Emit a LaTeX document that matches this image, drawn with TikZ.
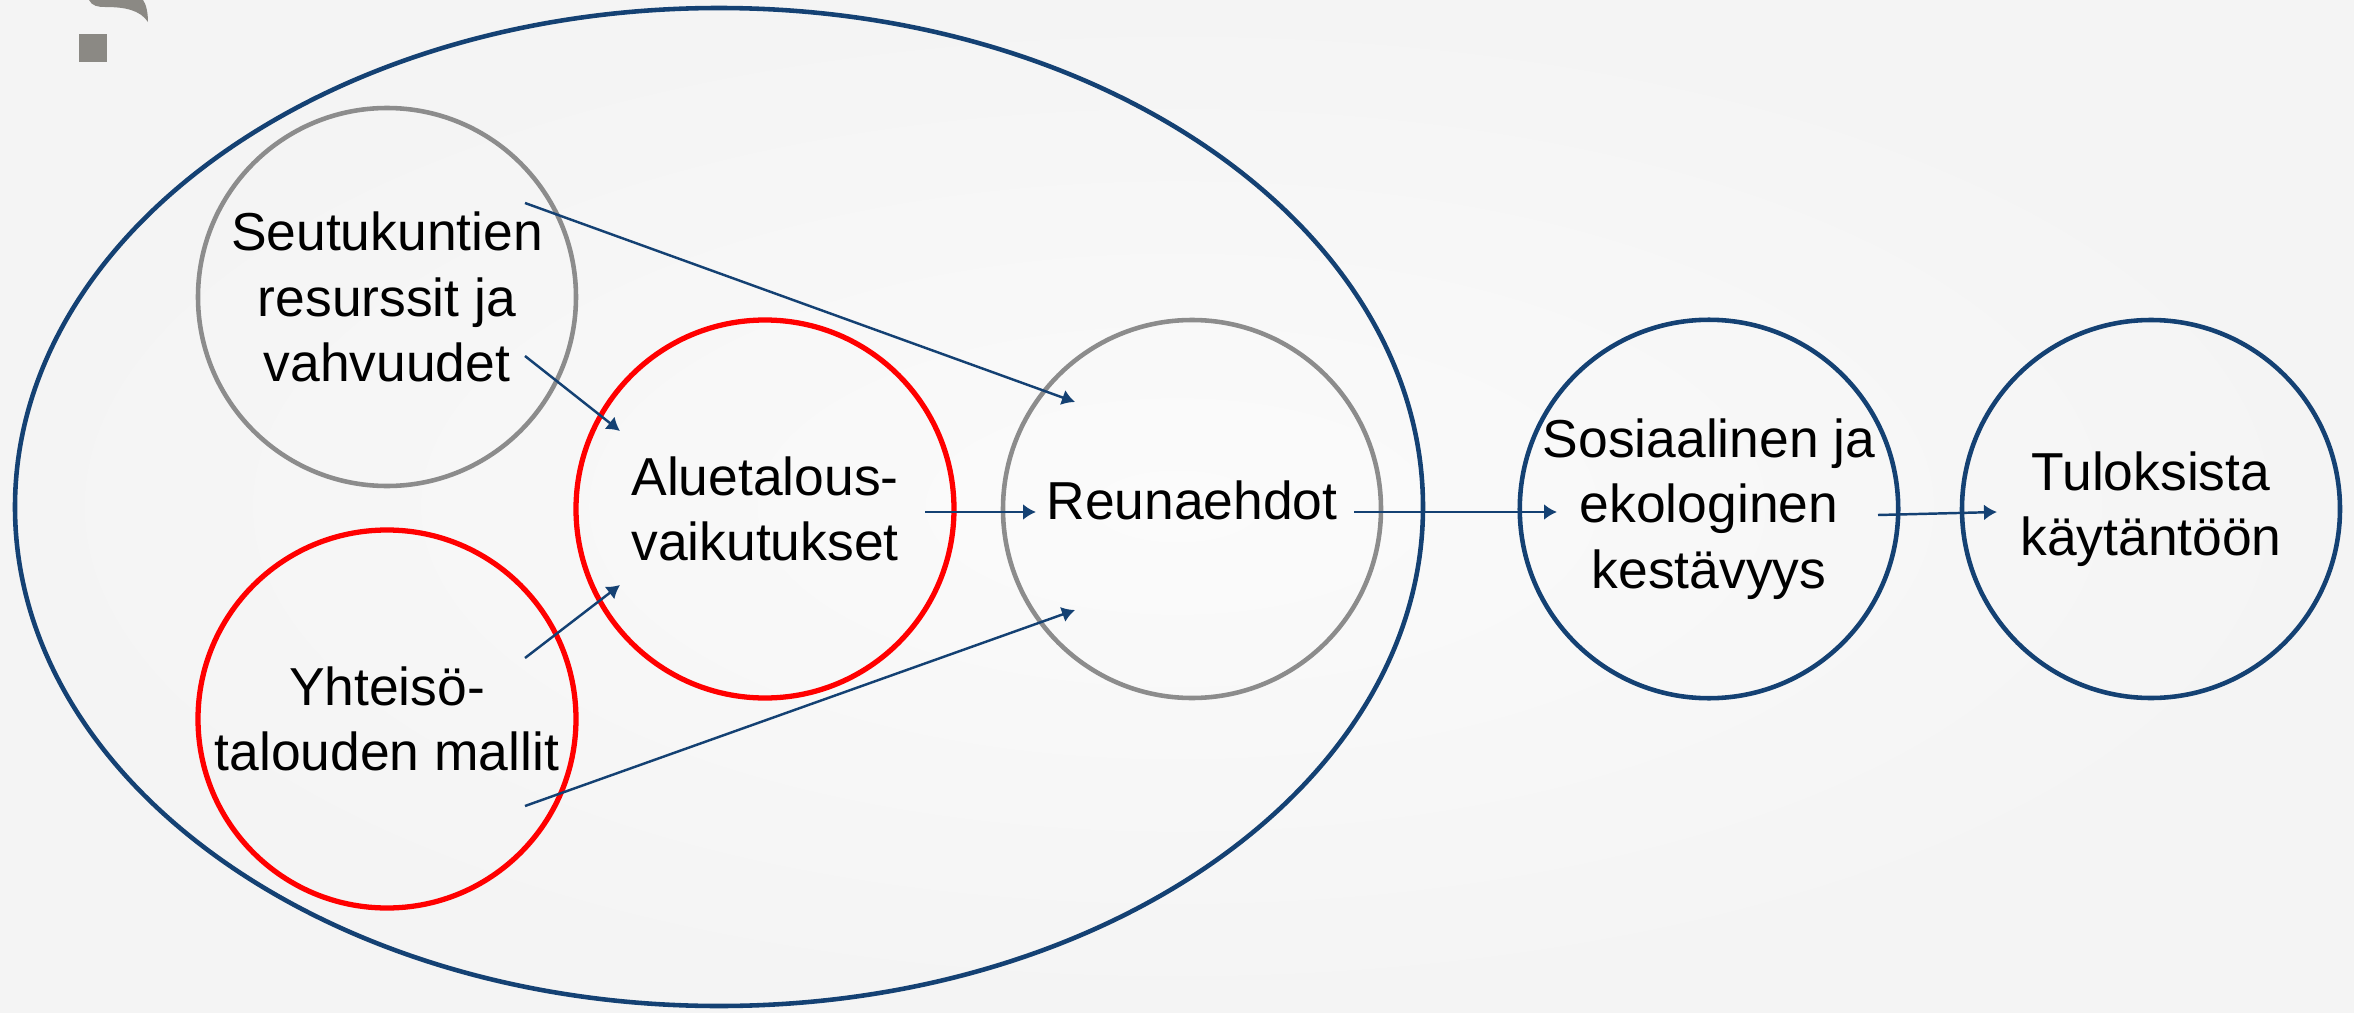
\documentclass[tikz,border=0pt]{standalone}
\usepackage{fontspec}
\setmainfont{Liberation Sans}
\usepackage{tikz}
\usetikzlibrary{arrows.meta,calc}
\definecolor{navy}{RGB}{20,65,115}
\definecolor{ringgrey}{RGB}{140,140,140}
\definecolor{logogrey}{RGB}{139,137,132}
\definecolor{bgouter}{RGB}{244,244,244}
\definecolor{bginner}{RGB}{251,251,251}

\begin{document}
\begin{tikzpicture}
\tikzset{
	ring node/.style = {circle, minimum size = 3.78cm, inner sep = 0, outer sep = 0, align = center, font = \fontsize{15.2}{18.6}\selectfont},
	grey node/.style = {ring node, draw = ringgrey, line width = 1.3pt},
	red node/.style = {ring node, draw = red, line width = 1.5pt},
	blue node/.style = {ring node, draw = navy, line width = 1.3pt},
	link/.style = {draw = navy, line width = 0.7pt, -{Latex[length = 0.13cm, width = 0.16cm]}},
}
\useasboundingbox (0,0) rectangle (23.54,10.12);
\shade[inner color = bginner, outer color = bgouter] (0,0) rectangle (23.54,10.12);

% logo fragment
\fill[logogrey] (0.79,9.50) rectangle (1.07,9.78);
\fill[logogrey] (0.89,10.12) .. controls (0.92,10.06) and (0.98,10.05) .. (1.05,10.05) .. controls (1.25,10.05) and (1.40,10.02) .. (1.48,9.90) .. controls (1.48,10.00) and (1.46,10.08) .. (1.43,10.12) -- cycle;

\draw[navy, line width = 1.3pt] (7.19,5.05) ellipse [x radius = 7.04, y radius = 4.99];

\node(s)[grey node] at (3.87,7.15) {Seutukuntien\\resurssit ja\\vahvuudet};
\node(y)[red node] at (3.87,2.93) {Yhteisö-\\talouden mallit};
\node(a)[red node] at (7.65,5.03) {Aluetalous-\\vaikutukset};
\node(r)[grey node] at (11.92,5.03) {\raisebox{0.6ex}{Reunaehdot}};
\node(k)[blue node] at (17.09,5.03) {Sosiaalinen ja\\ekologinen\\kestävyys};
\node(t)[blue node] at (21.51,5.03) {Tuloksista\\käytäntöön};

\coordinate (s1) at ($(s)+(1.38,0.94)$);
\coordinate (s2) at ($(s)+(1.38,-0.59)$);
\coordinate (y1) at ($(y)+(1.38,0.61)$);
\coordinate (y2) at ($(y)+(1.38,-0.87)$);
\coordinate (a1) at ($(a)+(-1.45,0.78)$);
\coordinate (a2) at ($(a)+(-1.45,-0.76)$);
\coordinate (a3) at ($(a)+(1.60,-0.03)$);
\coordinate (r1) at ($(r)+(-1.17,1.07)$);
\coordinate (r2) at ($(r)+(-1.17,-1.01)$);
\coordinate (r3) at ($(r)+(-1.56,-0.03)$);
\coordinate (r4) at ($(r)+(1.62,-0.03)$);
\coordinate (k1) at ($(k)+(-1.52,-0.03)$);
\coordinate (k2) at ($(k)+(1.69,-0.06)$);
\coordinate (t1) at ($(t)+(-1.54,-0.03)$);

\draw[link] (s1) -- (r1);
\draw[link] (s2) -- (a1);
\draw[link] (y1) -- (a2);
\draw[link] (y2) -- (r2);
\draw[link] (a3) -- (r3);
\draw[link] (r4) -- (k1);
\draw[link] (k2) -- (t1);

\end{tikzpicture}
\end{document}
